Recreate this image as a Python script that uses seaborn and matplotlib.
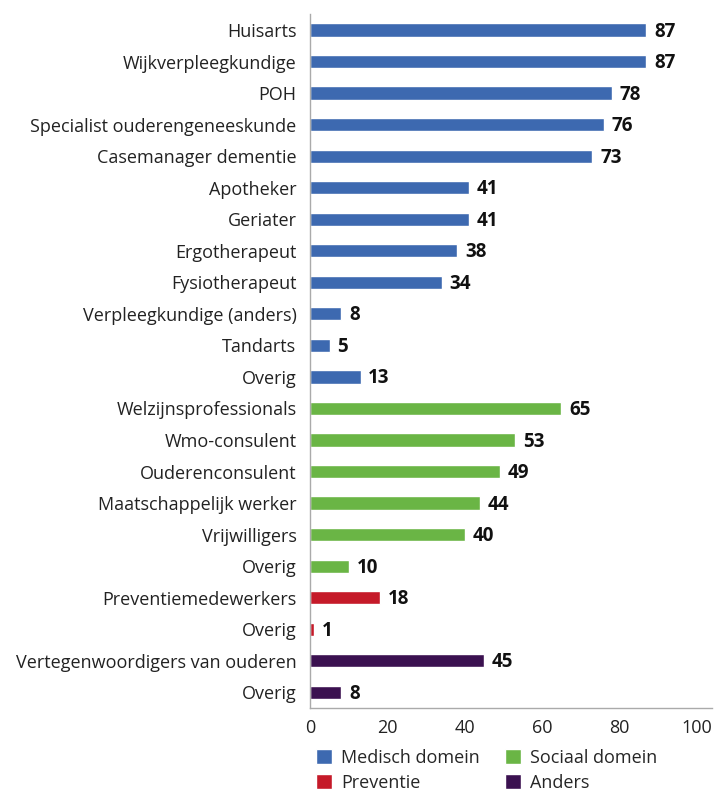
import pandas as pd
import seaborn as sns
import matplotlib.pyplot as plt

# Data
labels = ['Huisarts', 'Wijkverpleegkundige', 'POH', 'Specialist ouderengeneeskunde',
          'Casemanager dementie', 'Apotheker', 'Geriater', 'Ergotherapeut',
          'Fysiotherapeut', 'Verpleegkundige (anders)', 'Tandarts', 'Overig',
          'Welzijnsprofessionals', 'Wmo-consulent', 'Ouderenconsulent',
          'Maatschappelijk werker', 'Vrijwilligers', 'Overig',
          'Preventiemedewerkers', 'Overig',
          'Vertegenwoordigers van ouderen', 'Overig']
values = [87, 87, 78, 76, 73, 41, 41, 38, 34, 8, 5, 13,
          65, 53, 49, 44, 40, 10,
          18, 1,
          45, 8]
groups = ['Medisch domein'] * 12 + ['Sociaal domein'] * 6 + ['Preventie'] * 2 + ['Anders'] * 2
group_colors = {'Medisch domein': '#3d69b0', 'Sociaal domein': '#6ab545',
                'Preventie': '#c51a29', 'Anders': '#3b1150'}

df = pd.DataFrame({'row': [str(i) for i in range(len(labels))],
                   'value': values, 'group': groups})

sns.set_style("white")
plt.rcParams['font.family'] = ['Open Sans', 'DejaVu Sans']

fig = plt.figure(figsize=(7.15, 7.92), dpi=100)
ax = fig.add_axes([0.434, 0.106, 0.562, 0.876])

sns.barplot(data=df, x='value', y='row', hue='group', palette=group_colors,
            dodge=False, width=0.42, orient='h', ax=ax, saturation=1)

ax.set_yticks(range(len(labels)))
ax.set_yticklabels(labels, fontsize=13, color='#222222')
ax.set_ylim(len(labels) - 0.5, -0.5)
ax.set_xlim(0, 104)
ax.set_xticks([0, 20, 40, 60, 80, 100])
ax.tick_params(axis='x', labelsize=13, length=5, color='#555555', labelcolor='#222222', pad=3)
ax.tick_params(axis='y', length=0, pad=10)
ax.set_xlabel('')
ax.set_ylabel('')

for s in ['top', 'right']:
    ax.spines[s].set_visible(False)
for s in ['left', 'bottom']:
    ax.spines[s].set_color('#aaaaaa')
    ax.spines[s].set_linewidth(1)

for i, v in enumerate(values):
    ax.text(v + 2.0, i + 0.05, str(v), va='center', ha='left', fontsize=13.5,
            fontweight='bold', color='#111111')

handles, names = ax.get_legend_handles_labels()
order = ['Medisch domein', 'Preventie', 'Sociaal domein', 'Anders']
h = [handles[names.index(n)] for n in order]
ax.legend(h, order, loc='upper left', bbox_to_anchor=(-0.005, -0.048), ncol=2,
          frameon=False, fontsize=13, handlelength=0.9, handleheight=0.9,
          handletextpad=0.5, columnspacing=1.4, labelspacing=0.4, borderaxespad=0)

fig.savefig('out.png', dpi=100)
